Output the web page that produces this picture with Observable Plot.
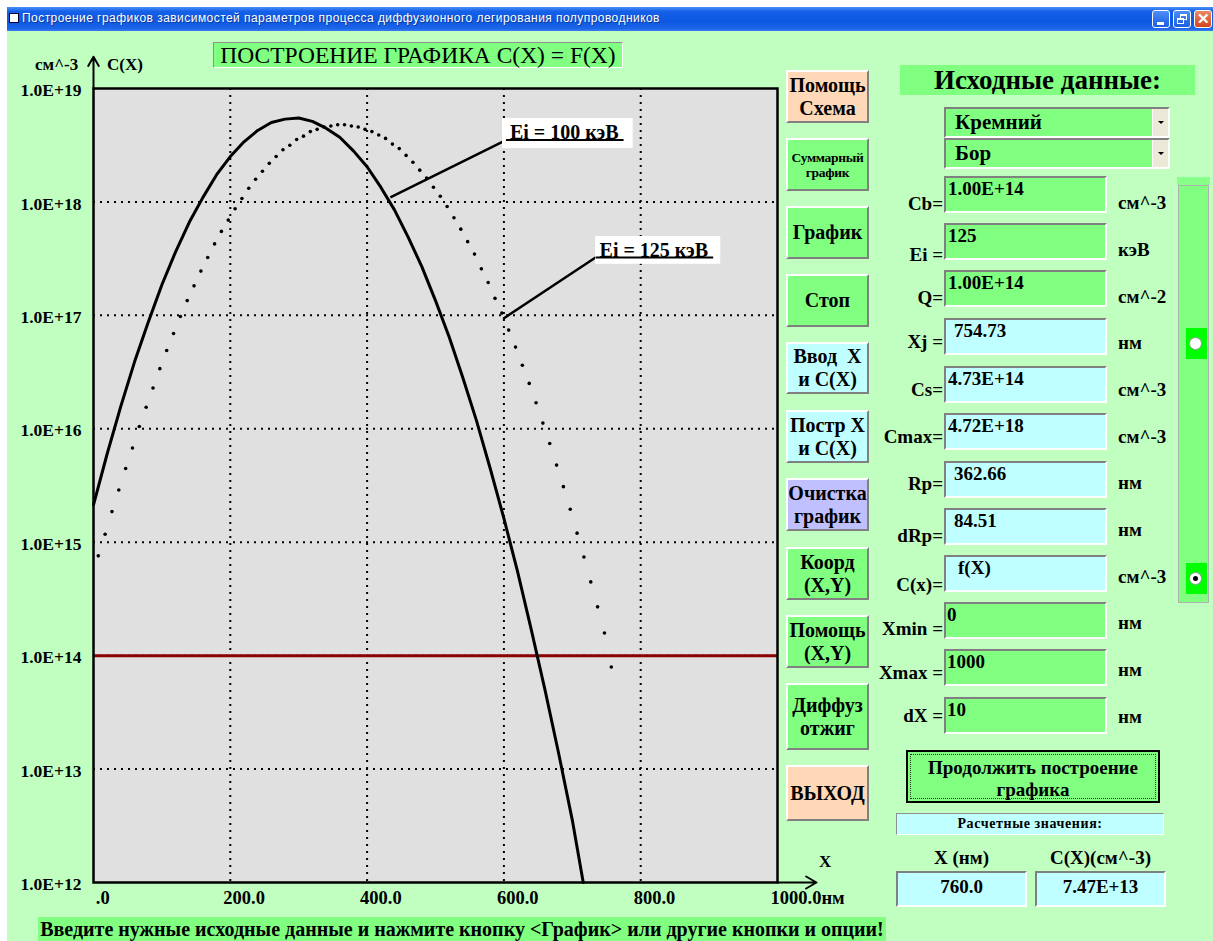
<!DOCTYPE html>
<html><head><meta charset="utf-8">
<script src="https://cdn.jsdelivr.net/npm/d3@7"></script>
<script src="https://cdn.jsdelivr.net/npm/@observablehq/plot@0.6"></script>
<style>
body{margin:0;background:#fff;width:1213px;height:941px;overflow:hidden;position:relative;font-family:'Liberation Serif','Times New Roman',serif;font-weight:bold;color:#000;}
.a{position:absolute;box-sizing:border-box;}
#titlebar{left:7px;top:7px;width:1206px;height:24px;background:linear-gradient(#4a90f8 0%,#1560e8 18%,#0d58e0 60%,#1d66ea 90%,#3a7ef0 100%);}
#ttext{left:22px;top:11px;color:#fff;font:12px 'Liberation Sans',Arial,sans-serif;white-space:nowrap;letter-spacing:0.45px;text-shadow:1px 1px 0 #0a3aa0;}
#icon{left:9px;top:13px;width:10px;height:10px;background:#fff;border:1px solid #003;}
.wb{top:10px;width:18px;height:18px;border:1px solid #fff;border-radius:3px;background:linear-gradient(#4d8ef8,#1a5fe0);}
#client{left:7px;top:31px;width:1206px;height:910px;background:#c0ffc0;}
.btn{left:786px;width:83px;border:2px solid;border-color:#fff #808080 #808080 #fff;display:flex;align-items:center;justify-content:center;text-align:center;font-size:20px;line-height:23px;white-space:nowrap;}
.fld{left:944px;width:163px;height:37px;border:2px solid;border-color:#808080 #fff #fff #808080;font-size:19px;line-height:20px;padding-left:1px;padding-top:1px;white-space:nowrap;}
.lbl{right:270px;font-size:19px;line-height:20px;white-space:nowrap;text-align:right;}
.unit{left:1118px;font-size:19px;line-height:20px;white-space:nowrap;}
.g{background:#80ff80;} .c{background:#c0ffff;}
.combo{left:944px;width:226px;height:31px;border:2px solid;border-color:#808080 #fff #fff #808080;background:#80ff80;font-size:21px;line-height:26px;padding-left:9px;}
.dd{right:0;top:0;width:16px;height:27px;background:#ece9d8;border-left:1px solid #fff;}
.dd:after{content:"";position:absolute;left:5px;top:12px;border-left:3px solid transparent;border-right:3px solid transparent;border-top:3px solid #000;}
.thumb{left:1186px;width:21px;height:31px;background:#00ff00;}
.radio{left:3px;top:9px;width:13px;height:13px;border-radius:50%;background:#fff;border:1px solid #999;}
</style></head>
<body>
<div class="a" id="titlebar"></div>
<div class="a" id="icon"></div>
<div class="a" id="ttext">Построение графиков зависимостей параметров процесса диффузионного легирования полупроводников</div>
<div class="a wb" style="left:1152px"><div class="a" style="left:4px;top:11px;width:7px;height:3px;background:#fff"></div></div>
<div class="a wb" style="left:1173px"><div class="a" style="left:6px;top:3px;width:7px;height:6px;border:1px solid #fff;border-top-width:2px"></div><div class="a" style="left:3px;top:7px;width:7px;height:6px;border:1px solid #fff;border-top-width:2px;background:#2a6be6"></div></div>
<div class="a wb" style="left:1194px;background:linear-gradient(#e88a6a,#d2451c)"><div class="a" style="left:1px;top:0px;color:#fff;font:bold 15px 'Liberation Sans',sans-serif;line-height:16px;width:14px;text-align:center">✕</div></div>
<div class="a" id="client"></div>

<div class="a" style="left:213px;top:42px;width:410px;height:26px;background:#80ff80;border:1px solid;border-color:#909090 #fff #fff #909090;font-weight:normal;font-size:23.5px;line-height:24px;text-align:center;white-space:nowrap">ПОСТРОЕНИЕ ГРАФИКА C(X) = F(X)</div>
<div class="a" style="left:35px;top:55px;font-size:17px;white-space:nowrap">см^-3</div>
<div class="a" style="left:107px;top:55px;font-size:17px;white-space:nowrap">C(X)</div>
<div class="a" style="left:819px;top:852px;font-size:17px">X</div>

<div id="chart" class="a" style="left:0;top:40px"></div>

<div class="a" style="left:38px;top:917px;width:848px;height:24px;background:#80ff80;font-size:20px;line-height:24px;text-align:center;white-space:nowrap">Введите нужные исходные данные и нажмите кнопку &lt;График&gt; или другие кнопки и опции!</div>

<div class="a btn" style="top:70px;height:53px;background:#ffd8b8">Помощь<br>Схема</div>
<div class="a btn" style="top:138px;height:53px;background:#80ff80;font-size:13.5px;line-height:15px;letter-spacing:-0.3px">Суммарный<br>график</div>
<div class="a btn" style="top:206px;height:53px;background:#80ff80">График</div>
<div class="a btn" style="top:274px;height:53px;background:#80ff80">Стоп</div>
<div class="a btn" style="top:342px;height:52px;background:#c0ffff">Ввод&nbsp; X<br>и C(X)</div>
<div class="a btn" style="top:410px;height:53px;background:#c0ffff">Постр X<br>и C(X)</div>
<div class="a btn" style="top:478px;height:53px;background:#c0c0ff">Очистка<br>график</div>
<div class="a btn" style="top:547px;height:53px;background:#80ff80">Коорд<br>(X,Y)</div>
<div class="a btn" style="top:615px;height:53px;background:#80ff80">Помощь<br>(X,Y)</div>
<div class="a btn" style="top:683px;height:67px;background:#80ff80">Диффуз<br>отжиг</div>
<div class="a btn" style="top:765px;height:56px;background:#ffd8b8">ВЫХОД</div>

<div class="a" style="left:900px;top:65px;width:295px;height:30px;background:#80ff80;font-size:27px;line-height:30px;text-align:center;white-space:nowrap">Исходные данные:</div>
<div class="a combo" style="top:107px">Кремний<div class="a dd"></div></div>
<div class="a combo" style="top:138px">Бор<div class="a dd"></div></div>

<div id="fields"></div>

<div class="a" style="left:1177px;top:177px;width:33px;height:8px;background:#88ff88"></div>
<div class="a" style="left:1178px;top:185px;width:31px;height:418px;background:#80ff80;border:1px solid #b0b0b0"></div>
<div class="a thumb" style="top:328px"><div class="a radio"></div></div>
<div class="a thumb" style="top:563px"><div class="a radio"><div class="a" style="left:3px;top:3px;width:5px;height:5px;border-radius:50%;background:#000"></div></div></div>

<div class="a" style="left:906px;top:750px;width:254px;height:53px;border:2px solid #000;background:#80ff80;padding:2px"><div style="width:100%;height:100%;box-sizing:border-box;border:1px dotted #333;text-align:center;font-size:19px;line-height:22px;padding-top:2px">Продолжить построение<br>графика</div></div>
<div class="a c" style="left:896px;top:813px;width:268px;height:22px;border:1px solid;border-color:#909090 #fff #fff #909090;font-size:14px;line-height:20px;text-align:center;letter-spacing:0.6px">Расчетные значения:</div>
<div class="a" style="left:896px;top:847px;width:131px;font-size:19px;text-align:center">X (нм)</div>
<div class="a" style="left:1035px;top:847px;width:131px;font-size:19px;text-align:center">C(X)(см^-3)</div>
<div class="a c" style="left:896px;top:871px;width:131px;height:36px;border:2px solid;border-color:#808080 #fff #fff #808080;font-size:19px;line-height:28px;text-align:center">760.0</div>
<div class="a c" style="left:1035px;top:871px;width:131px;height:36px;border:2px solid;border-color:#808080 #fff #fff #808080;font-size:19px;line-height:28px;text-align:center">7.47E+13</div>

<script>
// ---- Data ----
// Ei = 100 keV profile (solid line): depth, nm  /  log10 C, cm^-3
const solidX = [0,20,40,60,80,100,120,140,160,180,200,220,240,260,280,300,320,340,360,380,400,420,440,460,480,500,520,540,560,580,600,620,640,660,680,700,716];
const solidLog = [15.33,15.78,16.20,16.59,16.94,17.27,17.56,17.82,18.04,18.24,18.40,18.53,18.63,18.70,18.73,18.74,18.71,18.65,18.57,18.45,18.31,18.13,17.93,17.69,17.43,17.13,16.81,16.45,16.07,15.65,15.21,14.74,14.23,13.70,13.14,12.55,12.00];
// Ei = 125 keV profile (dotted): depth, nm / log10 C
const dotX = [7,17,27,37,47,57,67,77,87,97,107,117,127,137,147,157,167,177,187,197,207,217,227,237,247,257,267,277,287,297,307,317,327,337,347,357,367,377,387,397,407,417,427,437,447,457,467,477,487,497,507,517,527,537,547,557,567,577,587,597,607,617,627,637,647,657,667,677,687,697,707,717,727,737,747,757];
const dotLog = [14.88,15.07,15.27,15.46,15.65,15.83,16.02,16.19,16.36,16.53,16.69,16.84,16.99,17.13,17.26,17.39,17.51,17.63,17.74,17.84,17.94,18.03,18.12,18.20,18.27,18.34,18.40,18.46,18.50,18.55,18.58,18.62,18.64,18.66,18.67,18.68,18.68,18.67,18.66,18.64,18.62,18.59,18.56,18.51,18.47,18.41,18.35,18.28,18.21,18.13,18.05,17.96,17.86,17.76,17.65,17.54,17.41,17.29,17.15,17.02,16.87,16.72,16.56,16.40,16.23,16.05,15.87,15.68,15.49,15.29,15.08,14.87,14.65,14.43,14.20,13.90];
const Cb = 1e14; // background concentration, cm^-3
const xTicks = [0,200,400,600,800,1000];
const yTicks = [1e12,1e13,1e14,1e15,1e16,1e17,1e18,1e19];
const gridX = [200,400,600,800];
const gridY = [1e13,1e14,1e15,1e16,1e17,1e18];
// annotation anchors (data units)
const notes = [
  {label:"Ei = 100 кэВ", cx:434, cy:10**18.04, ux1:603, ux2:775, uy:10**18.545, bx1:598, bx2:789, by1:10**18.735, by2:10**18.47},
  {label:"Ei = 125 кэВ", cx:599, cy:10**16.97, ux1:734, ux2:906, uy:10**17.51, bx1:734, bx2:917, by1:10**17.695, by2:10**17.45}
];
const axisArrows = [
  {x1:0, y1:1e19, x2:0, y2:10**19.28},
  {x1:1000, y1:1e12, x2:1057, y2:1e12}
];
// right panel
const fLabels = ["Cb=","Ei =","Q=","Xj =","Cs=","Cmax=","Rp=","dRp=","C(x)=","Xmin =","Xmax =","dX ="];
const fValues = ["1.00E+14","125","1.00E+14","754.73","4.73E+14","4.72E+18","362.66","84.51","f(X)","0","1000","10"];
const fUnits = ["см^-3","кэВ","см^-2","нм","см^-3","см^-3","нм","нм","см^-3","нм","нм","нм"];

// ---- Right panel fields ----
const fTops=[176,223,270,318,366,413,461,508,555,602,649,697];
const fCls=["g","g","g","c","c","c","c","c","c","g","g","g"];
const fPad=[2,2,2,8,2,2,8,8,12,1,1,1];
const lblOff=[18,22,18,14,14,14,13,18,20,17,14,9];
const unitOff=[17,17,17,15,14,14,12,12,12,11,11,10];
let html="";
fTops.forEach((t,i)=>{
  html+=`<div class="a fld ${fCls[i]}" style="top:${t}px;padding-left:${fPad[i]}px">${fValues[i]}</div>`;
  html+=`<div class="a lbl" style="top:${t+lblOff[i]}px">${fLabels[i]}</div>`;
  html+=`<div class="a unit" style="top:${t+unitOff[i]}px">${fUnits[i]}</div>`;
});
document.getElementById("fields").innerHTML=html;

// ---- Chart ----
const solid = solidX.map((x,i)=>({x, y:10**solidLog[i]}));
const dotted = dotX.map((x,i)=>({x, y:10**dotLog[i]}));
const dots = "2,5";
const chart = Plot.plot({
  width: 880, height: 875,
  marginLeft: 93, marginRight: 103, marginTop: 48, marginBottom: 33,
  style:{fontFamily:"'Liberation Serif','Times New Roman',serif", fontSize:"17px", fontWeight:"bold", background:"transparent", color:"#000", overflow:"visible"},
  x:{domain:[0,1000]},
  y:{type:"log", domain:[1e12,1e19]},
  marks:[
    Plot.frame({fill:"#e0e0e0"}),
    Plot.ruleX(gridX,{stroke:"#000", strokeWidth:2, strokeDasharray:dots}),
    Plot.ruleY(gridY,{stroke:"#000", strokeWidth:2, strokeDasharray:dots}),
    Plot.ruleY([Cb],{stroke:"#8b0000", strokeWidth:3}),
    Plot.line(solid,{x:"x", y:"y", stroke:"#000", strokeWidth:3}),
    Plot.dot(dotted,{x:"x", y:"y", r:1.8, fill:"#000", stroke:null}),
    Plot.link(notes,{x1:"cx", y1:"cy", x2:"ux1", y2:"uy", stroke:"#000", strokeWidth:2.5}),
    Plot.rect(notes,{x1:"bx1", x2:"bx2", y1:"by1", y2:"by2", fill:"#fff"}),
    Plot.link(notes,{x1:"ux1", y1:"uy", x2:"ux2", y2:"uy", stroke:"#000", strokeWidth:2}),
    Plot.text(notes,{x:"ux1", y:"uy", text:"label", textAnchor:"start", lineAnchor:"bottom", dx:4, dy:-1, fontSize:20, fontWeight:"bold", fill:"#000"}),
    Plot.frame({stroke:"#000", strokeWidth:2.5}),
    Plot.arrow(axisArrows,{x1:"x1", y1:"y1", x2:"x2", y2:"y2", stroke:"#000", strokeWidth:2, headLength:9}),
    Plot.axisY({ticks:yTicks, tickSize:0, tickPadding:12, tickFormat:d=>"1.0E+"+Math.round(Math.log10(d)), fontSize:17.5, dy:2}),
    Plot.axisX({ticks:xTicks, tickSize:0, tickPadding:8, textAnchor:"start", dx:-7, fontSize:18.5,
      tickFormat:d=> d===0 ? "\u00a0\u00a0.0" : d===1000 ? "1000.0нм" : d.toFixed(1)})
  ]
});
document.getElementById("chart").appendChild(chart);
</script>
</body></html>
